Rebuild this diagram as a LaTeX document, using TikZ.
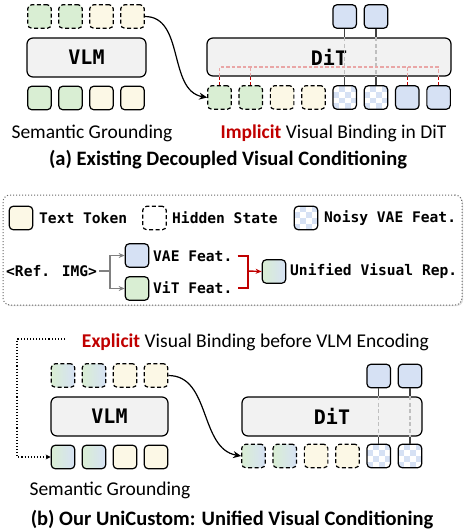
\documentclass[tikz,border=0pt]{standalone}
\usepackage{fontspec}
\setmainfont{Carlito}
\newfontfamily\monof{DejaVu Sans Mono}
\usetikzlibrary{arrows.meta,calc,shadows}
\definecolor{cgreen}{RGB}{217,238,211}
\definecolor{ccream}{RGB}{252,248,230}
\definecolor{cblue}{RGB}{214,225,244}
\definecolor{cbox}{RGB}{242,242,242}
\definecolor{cred}{RGB}{192,0,0}
\tikzset{
  tok/.style={draw=black, line width=1.2pt, rounded corners=4pt, minimum size=23.5pt, inner sep=0pt},
  hidn/.style={tok, dash pattern=on 4pt off 2.5pt},
  gt/.style={tok, fill=cgreen},
  ct/.style={tok, fill=ccream},
  bt/.style={tok, fill=cblue},
  xt/.style={tok, left color=cgreen, right color=cblue},
  gh/.style={hidn, fill=cgreen},
  ch/.style={hidn, fill=ccream},
  xh/.style={hidn, left color=cgreen, right color=cblue},
  wh/.style={hidn, fill=white},
  kt/.style={tok, fill=white, path picture={
    \foreach \i in {0,1,2,3}{\foreach \j in {0,1,2,3}{
      \pgfmathtruncatemacro\k{mod(\i+\j,2)}
      \ifnum\k=1
        \fill[cblue, sharp corners] ($(path picture bounding box.north west)+(\i*5.9pt,-\j*5.9pt)$) rectangle ++(5.9pt,-5.9pt);
      \fi}}}},
  bigbox/.style={draw=black, line width=1.2pt, rounded corners=6pt, fill=cbox, inner sep=0pt,
    font=\monof\bfseries\fontsize{20}{22}\selectfont},
  stxt/.style={inner sep=0pt, font=\fontsize{19.5}{22}\selectfont},
  ttl/.style={inner sep=0pt, font=\bfseries\fontsize{20.5}{22}\selectfont},
  ltxt/.style={inner sep=0pt, anchor=west, font=\monof\bfseries\fontsize{14.6}{16}\selectfont},
  graysolid/.style={draw=black!75, line width=1.1pt},
  graydash/.style={draw=black!25, line width=1.1pt, dash pattern=on 4pt off 2.5pt},
  pinkd/.style={draw=cred!35, line width=1.1pt, dash pattern=on 3.5pt off 2pt},
  redd/.style={draw=cred, line width=1.1pt, dash pattern=on 3.5pt off 2pt},
  curvearr/.style={draw=black, line width=1.2pt, -{Stealth[length=8pt,width=7pt]}},
  grayl/.style={draw=black!50, line width=1.4pt},
  redl/.style={draw=cred, line width=1.4pt},
}
\begin{document}
\begin{tikzpicture}[x=1pt,y=-1pt]
\useasboundingbox (0,0) rectangle (465,531);
% ---------- (a) ----------
\foreach \s [count=\i from 0] in {gh,gh,ch,ch} \node[\s] (ah\i) at (39.5+31*\i,16.5) {};
\foreach \s [count=\i from 0] in {gt,gt,ct,ct} \node[\s] (ab\i) at (39.5+31*\i,98) {};
\node[bigbox, minimum width=119pt, minimum height=39pt] (avlm) at (86.5,57.5) {VLM};
\node[stxt] (asg) at (92,133) {Semantic Grounding};
\node[bigbox, minimum width=244pt, minimum height=38pt] (adit) at (329,57) {DiT};
\foreach \s [count=\i from 0] in {gh,gh,ch,ch,kt,kt,bt,bt} \node[\s] (at\i) at (219.5+31.3*\i,97.5) {};
\node[bt] (ao0) at (344.7,16.5) {};
\node[bt] (ao1) at (376,16.5) {};
\foreach \n/\m in {ao0/at4,ao1/at5}{
  \draw[graysolid] (\n.south) -- (\n |- adit.north);
  \draw[graydash] (\n |- adit.north) -- (\n |- adit.south);
  \draw[graysolid] (\m |- adit.south) -- (\m.north);
}
\coordinate (ared) at (0,67);
\draw[pinkd] (at0 |- adit.south) -- (at0 |- ared) -- (at7 |- ared) -- (at7 |- adit.south);
\draw[pinkd] (at1 |- ared) -- (at1 |- adit.south);
\draw[pinkd] (at6 |- ared) -- (at6 |- adit.south);
\foreach \m in {at0,at1,at6,at7} \draw[redd] (\m |- adit.south) -- (\m.north);
\draw[curvearr] (ah3.east) to[out=0,in=170] (at0.west);
\node[stxt] (aimp) at (333.5,133) {\textcolor{cred}{\bfseries Implicit} Visual Binding in DiT};
\node[ttl] (atitle) at (228,160) {(a) Existing Decoupled Visual Conditioning};
% ---------- legend ----------
\node[draw=black!60, line width=1pt, dotted, rounded corners=7pt, minimum width=459pt, minimum height=110pt,
  fill=white, drop shadow={opacity=0.25, shadow xshift=1.2pt, shadow yshift=-1.2pt}] (leg) at (232.5,250) {};
\node[ct] (l1) at (21,218) {};
\node[ltxt] (l1t) at (39,218) {Text Token};
\node[wh] (l2) at (154.5,218) {};
\node[ltxt] (l2t) at (172,218) {Hidden State};
\node[kt] (l3) at (306,218) {};
\node[ltxt] (l3t) at (324,218) {Noisy VAE Feat.};
\node[ltxt] (ref) at (6,271) {<Ref. IMG>};
\node[bt] (vae) at (137,255.5) {};
\node[gt] (vit) at (137,288.5) {};
\node[ltxt] (vaet) at (153,256) {VAE Feat.};
\node[ltxt] (vitt) at (153,288) {ViT Feat.};
\coordinate (br) at (110,271);
\draw[grayl] ([xshift=2pt]ref.east) -- (br);
\draw[grayl,-{Stealth[length=6pt,width=5pt]}] (br) |- (vae.west);
\draw[grayl,-{Stealth[length=6pt,width=5pt]}] (br) |- (vit.west);
\node[xt] (uni) at (274,271.5) {};
\node[ltxt] (unit) at (290,271) {Unified Visual Rep.};
\coordinate (rb) at (248,271);
\draw[redl] ([xshift=5pt]vaet.east) -| (rb) |- ([xshift=5pt]vitt.east);
\draw[redl,-{Stealth[length=6pt,width=5pt]}] (rb) -- (uni.west);
% ---------- (b) ----------
\node[stxt] (bexp) at (255.5,342) {\textcolor{cred}{\bfseries Explicit} Visual Binding before VLM Encoding};
\foreach \s [count=\i from 0] in {xh,xh,ch,ch} \node[\s] (bh\i) at (63+31*\i,375.5) {};
\foreach \s [count=\i from 0] in {xt,xt,ct,ct} \node[\s] (bb\i) at (63+31*\i,457) {};
\node[bigbox, minimum width=117pt, minimum height=39pt] (bvlm) at (109.5,416.5) {VLM};
\node[stxt] (bsg) at (110,490) {Semantic Grounding};
\coordinate (ds) at (65,339);
\draw[draw=black, line width=1.1pt, dotted, -{Stealth[length=5pt,width=5pt]}] (ds) -- (17,339) |- (bb0.west);
\node[bigbox, minimum width=180pt, minimum height=39pt] (bdit) at (332,416.5) {DiT};
\foreach \s [count=\i from 0] in {xh,xh,ch,ch,kt,kt} \node[\s] (bt\i) at (253.5+31.3*\i,456) {};
\node[bt] (bo0) at (378.7,376) {};
\node[bt] (bo1) at (410,376) {};
\foreach \n/\m in {bo0/bt4,bo1/bt5}{
  \draw[graysolid] (\n.south) -- (\n |- bdit.north);
  \draw[graydash] (\n |- bdit.north) -- (\n |- bdit.south);
  \draw[graysolid] (\m |- bdit.south) -- (\m.north);
}
\draw[curvearr] (bh3.east) to[out=0,in=170] (bt0.west);
\node[ttl] (btitle) at (232,520) {(b) Our UniCustom: Unified Visual Conditioning};
\end{tikzpicture}
\end{document}
